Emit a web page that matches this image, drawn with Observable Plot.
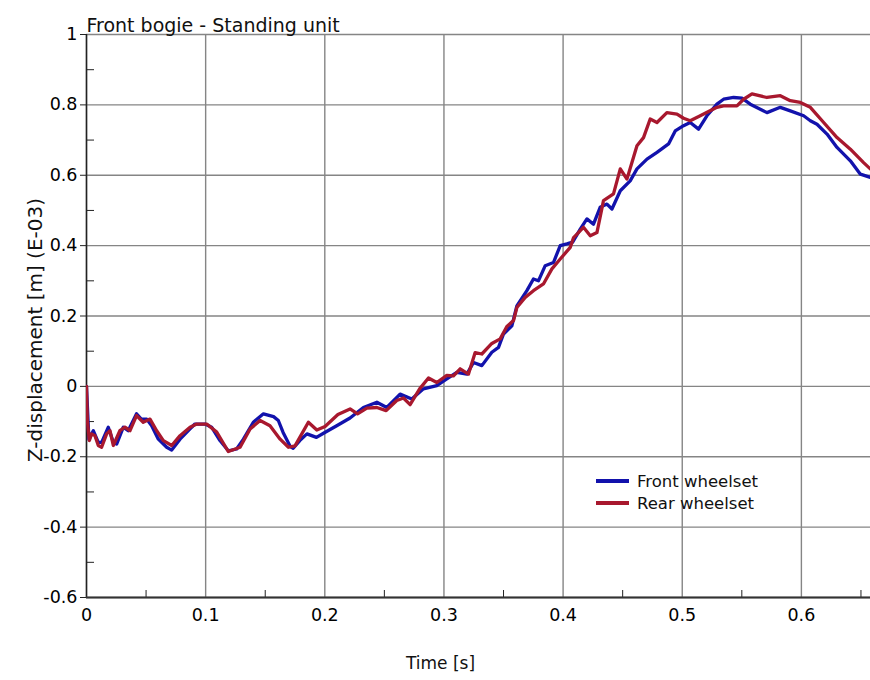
<!DOCTYPE html>
<html>
<head>
<meta charset="utf-8">
<script src="https://cdn.jsdelivr.net/npm/d3@7"></script>
<script src="https://cdn.jsdelivr.net/npm/@observablehq/plot@0.6"></script>
<style>
  body { margin: 0; background: #fff; }
  #wrap { position: relative; width: 870px; height: 680px; font-family: 'DejaVu Sans', Verdana, sans-serif; }
  #legend { position: absolute; left: 596px; top: 470px; font-size: 16.5px; color: #111; }
  #legend .row { display: flex; align-items: center; height: 22px; }
  #legend .sw { width: 33px; height: 4px; margin-right: 8px; }
</style>
</head>
<body>
<div id="wrap"></div>
<script>
// ---- data ----
const titleText = "Front bogie - Standing unit";
const yLabelText = "Z-displacement [m] (E-03)";
const xLabelText = "Time [s]";
const seriesNames = ["Front wheelset", "Rear wheelset"];
const seriesColors = ["#1212ac", "#a8182e"];

const xTicks = [0, 0.1, 0.2, 0.3, 0.4, 0.5, 0.6];
const xMinorTicks = [0.05, 0.15, 0.25, 0.35, 0.45, 0.55, 0.65];
const yTicks = [-0.6, -0.4, -0.2, 0, 0.2, 0.4, 0.6, 0.8, 1];
const yMinorTicks = [-0.5, -0.3, -0.1, 0.1, 0.3, 0.5, 0.7, 0.9];
const xDomain = [0, 0.658];
const yDomain = [-0.6, 1];

const frontT = [0, 0.002, 0.0057, 0.0099, 0.0127, 0.0183, 0.0225, 0.0253, 0.0309, 0.035,
  0.042, 0.046, 0.0505, 0.0547, 0.0603, 0.0673, 0.0715, 0.0785, 0.0869, 0.091,
  0.0995, 0.105, 0.112, 0.119, 0.126, 0.1317, 0.14, 0.1485, 0.157, 0.161,
  0.165, 0.171, 0.1735, 0.179, 0.185, 0.193, 0.2, 0.21, 0.2212, 0.2324,
  0.2437, 0.252, 0.2632, 0.273, 0.2828, 0.294, 0.3024, 0.3108, 0.3192, 0.3248,
  0.3318, 0.3402, 0.3458, 0.35, 0.357, 0.3612, 0.3696, 0.3751, 0.3793, 0.385,
  0.3919, 0.3976, 0.4032, 0.408, 0.4144, 0.42, 0.4255, 0.4311, 0.4368, 0.441,
  0.448, 0.4563, 0.462, 0.4704, 0.4788, 0.4885, 0.4941, 0.5011, 0.5067, 0.5137,
  0.5207, 0.5291, 0.5347, 0.5431, 0.5501, 0.5571, 0.5711, 0.5823, 0.5907, 0.6019,
  0.6075, 0.6131, 0.6215, 0.6299, 0.6411, 0.6495, 0.6578];
const frontZ = [0, -0.15, -0.126, -0.159, -0.159, -0.116, -0.159, -0.164, -0.116, -0.126,
  -0.078, -0.093, -0.093, -0.112, -0.15, -0.173, -0.181, -0.15, -0.121, -0.107,
  -0.107, -0.116, -0.154, -0.183, -0.178, -0.15, -0.102, -0.078, -0.086, -0.097,
  -0.131, -0.171, -0.176, -0.154, -0.135, -0.145, -0.131, -0.112, -0.09, -0.06,
  -0.045, -0.06, -0.022, -0.036, -0.007, 0.002, 0.021, 0.04, 0.035, 0.068,
  0.059, 0.097, 0.111, 0.149, 0.172, 0.229, 0.272, 0.305, 0.3, 0.343,
  0.352, 0.4, 0.405, 0.41, 0.447, 0.476, 0.461, 0.509, 0.518, 0.504,
  0.556, 0.584, 0.618, 0.646, 0.665, 0.689, 0.726, 0.741, 0.75, 0.731,
  0.769, 0.802, 0.816, 0.821, 0.819, 0.802, 0.778, 0.793, 0.783, 0.769,
  0.755, 0.745, 0.717, 0.679, 0.641, 0.603, 0.594];

const rearT = [0, 0.0007, 0.0024, 0.0043, 0.0071, 0.0099, 0.0127, 0.0169, 0.0197, 0.0225,
  0.028, 0.0323, 0.0365, 0.042, 0.0476, 0.0533, 0.0589, 0.0645, 0.0715, 0.0785,
  0.0869, 0.0925, 0.1009, 0.1093, 0.119, 0.1289, 0.1373, 0.1457, 0.154, 0.1625,
  0.1695, 0.175, 0.1862, 0.1933, 0.2002, 0.211, 0.2212, 0.2275, 0.2353, 0.2437,
  0.2515, 0.2604, 0.266, 0.2716, 0.2796, 0.287, 0.294, 0.3024, 0.308, 0.3136,
  0.3206, 0.3262, 0.3318, 0.3402, 0.3472, 0.3528, 0.3584, 0.3612, 0.3682, 0.3751,
  0.3835, 0.3906, 0.3976, 0.406, 0.4088, 0.4171, 0.4228, 0.4284, 0.4339, 0.4423,
  0.448, 0.4536, 0.4591, 0.462, 0.4675, 0.4731, 0.4788, 0.4871, 0.4956, 0.5011,
  0.5067, 0.5151, 0.5291, 0.5347, 0.5459, 0.5515, 0.5585, 0.5711, 0.5823, 0.5907,
  0.5991, 0.6075, 0.6187, 0.6299, 0.6411, 0.6522, 0.6578];
const rearZ = [0, -0.097, -0.154, -0.135, -0.14, -0.168, -0.173, -0.135, -0.126, -0.168,
  -0.126, -0.116, -0.126, -0.083, -0.102, -0.093, -0.126, -0.154, -0.168, -0.14,
  -0.116, -0.107, -0.107, -0.13, -0.185, -0.173, -0.121, -0.097, -0.112, -0.15,
  -0.173, -0.169, -0.102, -0.124, -0.114, -0.08, -0.064, -0.078, -0.062, -0.06,
  -0.069, -0.04, -0.033, -0.052, -0.007, 0.024, 0.011, 0.031, 0.03, 0.05,
  0.035, 0.096, 0.092, 0.122, 0.135, 0.17, 0.187, 0.224, 0.253, 0.272,
  0.291, 0.334, 0.362, 0.395, 0.423, 0.452, 0.428, 0.437, 0.528, 0.547,
  0.618, 0.589, 0.651, 0.684, 0.707, 0.76, 0.75, 0.778, 0.774, 0.762,
  0.755, 0.769, 0.793, 0.797, 0.797, 0.816, 0.831, 0.821, 0.826, 0.812,
  0.807, 0.793, 0.75, 0.707, 0.674, 0.636, 0.618];

// ---- build ----
const front = frontT.map((t, i) => ({t, z: frontZ[i]}));
const rear = rearT.map((t, i) => ({t, z: rearZ[i]}));
const fmt = d => String(Math.round(d * 10) / 10);
const gridColor = "#858585";
const font = "'DejaVu Sans', Verdana, sans-serif";

const chart = Plot.plot({
  width: 870,
  height: 680,
  marginLeft: 86,
  marginRight: 0,
  marginTop: 34,
  marginBottom: 83,
  style: {fontFamily: font, background: "white", color: "black", overflow: "visible"},
  x: {domain: xDomain, axis: null},
  y: {domain: yDomain, axis: null},
  marks: [
    Plot.gridX(xTicks, {stroke: gridColor, strokeOpacity: 1, strokeWidth: 1.4}),
    Plot.gridY(yTicks, {stroke: gridColor, strokeOpacity: 1, strokeWidth: 1.4}),
    Plot.axisY(yTicks, {anchor: "left", tickSize: 6, tickPadding: 3, tickFormat: fmt, fontSize: 17.5, label: null, stroke: "#222"}),
    Plot.axisY(yMinorTicks, {anchor: "left", tickSize: -8, tickFormat: () => "", label: null, stroke: "#222"}),
    Plot.axisX(xTicks, {anchor: "bottom", tickSize: 0, tickPadding: 11, tickFormat: fmt, fontSize: 17.5, label: null}),
    Plot.axisX(xMinorTicks, {anchor: "bottom", tickSize: -7, tickFormat: () => "", label: null, stroke: "#222"}),
    Plot.ruleX([xDomain[0]], {stroke: "#222", strokeWidth: 1.5}),
    Plot.ruleY([yDomain[0]], {stroke: "#333", strokeWidth: 1.8}),
    Plot.line(front, {x: "t", y: "z", stroke: seriesColors[0], strokeWidth: 3.3, clip: true}),
    Plot.line(rear, {x: "t", y: "z", stroke: seriesColors[1], strokeWidth: 3.3, clip: true}),
    Plot.text([titleText], {text: d => d, frameAnchor: "top-left", textAnchor: "start", dy: -16, fontSize: 19, fill: "#111"}),
    Plot.text([yLabelText], {text: d => d, frameAnchor: "left", textAnchor: "middle", rotate: -90, dx: -51, dy: 14, fontSize: 20, fill: "#111"}),
    Plot.text([xLabelText], {text: d => d, frameAnchor: "bottom", textAnchor: "middle", dx: -38, dy: 71, fontSize: 17, fill: "#111"})
  ]
});

const wrap = document.getElementById("wrap");
wrap.appendChild(chart);

const legend = document.createElement("div");
legend.id = "legend";
seriesNames.forEach((name, i) => {
  const row = document.createElement("div");
  row.className = "row";
  const sw = document.createElement("span");
  sw.className = "sw";
  sw.style.background = seriesColors[i];
  const label = document.createElement("span");
  label.textContent = name;
  row.appendChild(sw);
  row.appendChild(label);
  legend.appendChild(row);
});
wrap.appendChild(legend);
</script>
</body>
</html>
